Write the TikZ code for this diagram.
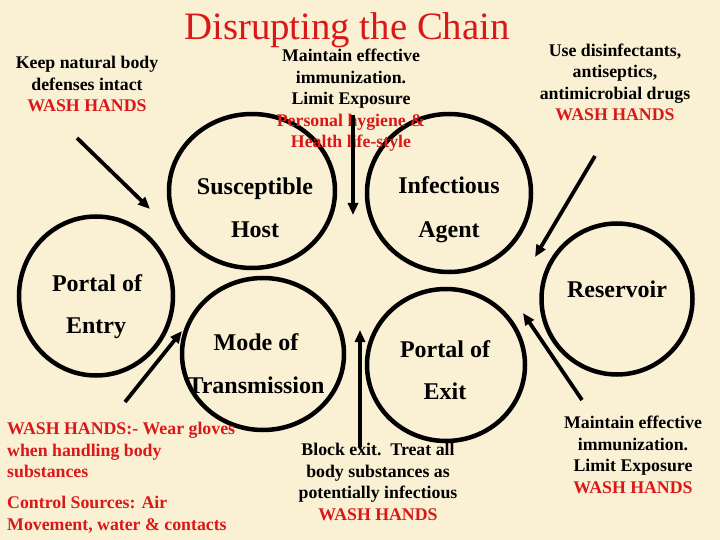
\documentclass[tikz,border=0pt]{standalone}
\usepackage{fontspec}
\setmainfont{Liberation Serif}
\usetikzlibrary{arrows.meta,shapes.geometric}
\definecolor{parch}{RGB}{250,240,212}
\definecolor{chainred}{RGB}{218,24,24}
\begin{document}
\begin{tikzpicture}[x=1pt,y=-1pt,
  ring/.style={draw, ellipse, line width=4.5pt, inner sep=0},
  clabel/.style={font=\fontsize{24}{24}\selectfont\bfseries, anchor=base, inner sep=0},
  note/.style={font=\fontsize{17.8}{21.5}\selectfont\bfseries, align=center, anchor=base, inner sep=0},
  arr/.style={line width=3.8pt, -{Triangle[length=12pt,width=10pt]}}]
\useasboundingbox (0,0) rectangle (720,540);
\fill[parch] (0,0) rectangle (720,540);
% circles
\node[ring, minimum width=166pt, minimum height=154pt] (host) at (252,191) {};
\node[ring, minimum width=164pt, minimum height=158pt] (agent) at (449,193) {};
\node[ring, minimum width=154pt, minimum height=159pt] (entry) at (96,296) {};
\node[ring, minimum width=162pt, minimum height=152pt] (mode) at (263,354) {};
\node[ring, minimum width=158pt, minimum height=152pt] (exit) at (446,365) {};
\node[ring, minimum width=151pt, minimum height=151pt] (res) at (617,299) {};
% circle labels
\node[clabel] (l1a) at (255,195) {Susceptible};
\node[clabel] (l1b) at (255,237) {Host};
\node[clabel] (l2a) at (449,194) {Infectious};
\node[clabel] (l2b) at (449,237) {Agent};
\node[clabel] (l3a) at (97,291) {Portal of};
\node[clabel] (l3b) at (96,333) {Entry};
\node[clabel] (l4a) at (256,350) {Mode of};
\node[clabel] (l4b) at (256,393) {Transmission};
\node[clabel] (l5a) at (445,357) {Portal of};
\node[clabel] (l5b) at (445,399) {Exit};
\node[clabel] (l6) at (617,297) {Reservoir};
% title
\node[font=\fontsize{38.8}{38.8}\selectfont, text=chainred, anchor=base, inner sep=0] (title) at (347,40) {Disrupting the Chain};
% notes (anchor base = baseline of last line)
\node[note] (n1) at (87,112) {Keep natural body\\defenses intact\\\textcolor{chainred}{WASH HANDS}};
\node[note] (n2) at (351,148) {Maintain effective\\immunization.\\Limit Exposure\\\textcolor{chainred}{Personal hygiene \&}\\\textcolor{chainred}{Health life-style}};
\node[note] (n3) at (615,121) {Use disinfectants,\\antiseptics,\\antimicrobial drugs\\\textcolor{chainred}{WASH HANDS}};
\node[note, align=left, anchor=base west, text=chainred] (n4) at (7,530) {WASH HANDS:- Wear gloves\\when handling body\\substances\\[9.5pt]Control Sources: Air\\Movement, water \& contacts};
\node[note] (n5) at (378,520) {Block exit.\ \ Treat all\\body substances as\\potentially infectious\\\textcolor{chainred}{WASH HANDS}};
\node[note] (n6) at (633,493) {Maintain effective\\immunization.\\Limit Exposure\\\textcolor{chainred}{WASH HANDS}};
% arrow end points
\coordinate (a1s) at (77,138);  \coordinate (a1e) at (150,209);
\coordinate (a2s) at (353,115); \coordinate (a2e) at (353,215);
\coordinate (a3s) at (595,156); \coordinate (a3e) at (535,257);
\coordinate (a4s) at (582,400); \coordinate (a4e) at (523,313);
\coordinate (a5s) at (360,447); \coordinate (a5e) at (360,330);
\coordinate (a6s) at (125,402); \coordinate (a6e) at (182,331);
\draw[arr] (a1s) -- (a1e);
\draw[arr] (a2s) -- (a2e);
\draw[arr] (a3s) -- (a3e);
\draw[arr] (a4s) -- (a4e);
\draw[arr] (a5s) -- (a5e);
\draw[arr] (a6s) -- (a6e);
\end{tikzpicture}
\end{document}
